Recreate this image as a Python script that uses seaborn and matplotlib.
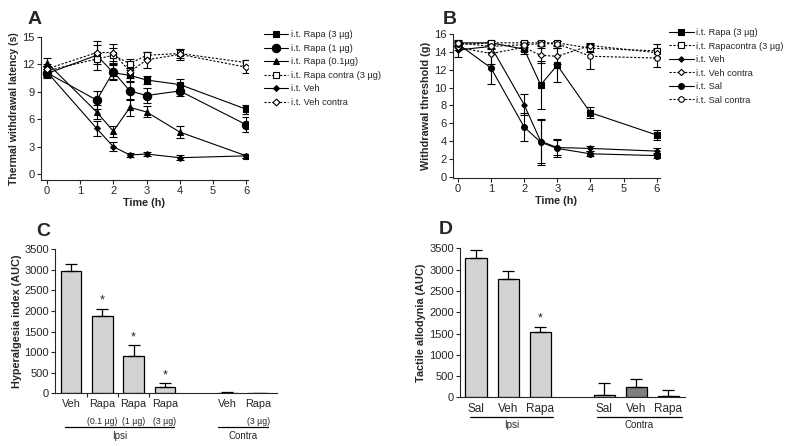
import numpy as np
import matplotlib
matplotlib.use("Agg")
import matplotlib.pyplot as plt
import pandas as pd
import seaborn as sns

# ---- data ----
time_a = [0, 1.5, 2, 2.5, 3, 4, 6]
a_rapa3 = [11.0, 13.0, 11.1, 10.8, 10.3, 9.8, 7.1]
a_rapa3_err = [0.5, 1.6, 0.8, 0.6, 0.4, 0.6, 0.5]
a_rapa1 = [11.1, 8.1, 11.2, 9.1, 8.6, 9.1, 5.4]
a_rapa1_err = [0.4, 1.0, 0.8, 1.0, 0.8, 0.6, 0.8]
a_rapa01 = [12.2, 6.8, 4.7, 7.3, 6.8, 4.6, 2.0]
a_rapa01_err = [0.5, 0.8, 0.6, 0.9, 0.6, 0.7, 0.2]
a_rapa_contra = [11.3, 12.6, 13.0, 12.1, 13.0, 13.2, 12.2]
a_rapa_contra_err = [0.5, 0.6, 0.8, 0.5, 0.4, 0.5, 0.3]
a_veh = [11.2, 5.0, 3.0, 2.1, 2.2, 1.8, 2.0]
a_veh_err = [0.6, 0.8, 0.5, 0.2, 0.2, 0.3, 0.2]
a_veh_contra = [11.5, 13.3, 13.3, 11.2, 12.5, 13.1, 11.7]
a_veh_contra_err = [0.6, 0.8, 0.9, 0.7, 0.9, 0.6, 0.6]

time_b = [0, 1, 2, 2.5, 3, 4, 6]
b_rapa3 = [15.0, 15.0, 14.3, 10.3, 12.5, 7.2, 4.7]
b_rapa3_err = [0.3, 0.2, 0.5, 2.7, 1.9, 0.6, 0.6]
b_rapa_contra = [14.8, 15.0, 15.0, 15.0, 15.0, 14.4, 14.1]
b_rapa_contra_err = [0.3, 0.2, 0.2, 0.2, 0.2, 0.4, 0.8]
b_veh = [14.2, 14.6, 8.1, 4.0, 3.3, 3.2, 2.9]
b_veh_err = [0.8, 0.2, 1.2, 2.4, 0.8, 0.3, 0.3]
b_veh_contra = [14.5, 13.8, 14.5, 13.6, 13.5, 14.7, 13.9]
b_veh_contra_err = [0.3, 1.2, 0.4, 0.8, 0.9, 0.3, 0.5]
b_sal = [14.9, 12.2, 5.6, 3.9, 3.2, 2.6, 2.4]
b_sal_err = [0.2, 1.8, 1.6, 2.6, 1.0, 0.3, 0.3]
b_sal_contra = [15.0, 14.6, 14.8, 14.9, 14.9, 13.5, 13.3]
b_sal_contra_err = [0.2, 0.3, 0.3, 0.3, 0.3, 1.4, 1.0]

c_groups = ["Veh i", "Rapa 0.1", "Rapa 1", "Rapa 3", "gap", "Veh c", "Rapa c"]
c_values = [2980, 1870, 920, 150, np.nan, 15, -10]
c_errors = [160, 190, 250, 100, np.nan, 10, 10]
c_ticklabels = ["Veh", "Rapa", "Rapa", "Rapa", "", "Veh", "Rapa"]
c_doses = ["", "(0.1 \u00b5g)", "(1 \u00b5g)", "(3 \u00b5g)", "", "", "(3 \u00b5g)"]
c_star = [False, True, True, True, False, False, False]

d_groups = ["Sal i", "Veh i", "Rapa i", "gap", "Sal c", "Veh c", "Rapa c"]
d_values = [3280, 2780, 1540, np.nan, 50, 250, 30]
d_errors = [180, 200, 120, np.nan, 290, 190, 140]
d_ticklabels = ["Sal", "Veh", "Rapa", "", "Sal", "Veh", "Rapa"]
d_star = [False, False, True, False, False, False, False]

sns.set_style("ticks")
plt.rcParams["font.family"] = ["Liberation Sans", "DejaVu Sans"]
plt.rcParams["axes.linewidth"] = 0.8

fig = plt.figure(figsize=(8, 4.46), dpi=100)
axA = fig.add_axes([0.051, 0.596, 0.259, 0.321])
axB = fig.add_axes([0.566, 0.601, 0.259, 0.323])
axC = fig.add_axes([0.069, 0.118, 0.277, 0.323])
axD = fig.add_axes([0.575, 0.109, 0.281, 0.334])

solid = "-"
dash = (0, (2, 1.5))


def draw_series(ax, t, y, err, label, marker, ms, fill, ls):
    ax.errorbar(t, y, yerr=err, fmt="none", ecolor="black", elinewidth=0.8,
                capsize=3, capthick=0.8, zorder=2)
    sns.lineplot(x=t, y=y, ax=ax, color="black", linewidth=0.8, linestyle=ls,
                 marker=marker, markersize=ms, markerfacecolor=fill,
                 markeredgecolor="black", markeredgewidth=0.8, label=label,
                 zorder=3)


# ---- panel A ----
draw_series(axA, time_a, a_rapa3, a_rapa3_err, "i.t. Rapa (3 \u00b5g)", "s", 4.5, "black", solid)
draw_series(axA, time_a, a_rapa1, a_rapa1_err, "i.t. Rapa (1 \u00b5g)", "o", 6, "black", solid)
draw_series(axA, time_a, a_rapa01, a_rapa01_err, "i.t. Rapa (0.1\u00b5g)", "^", 5, "black", solid)
draw_series(axA, time_a, a_rapa_contra, a_rapa_contra_err, "i.t. Rapa contra (3 \u00b5g)", "s", 4, "white", dash)
draw_series(axA, time_a, a_veh, a_veh_err, "i.t. Veh", "D", 3, "black", solid)
draw_series(axA, time_a, a_veh_contra, a_veh_contra_err, "i.t. Veh contra", "D", 3.5, "white", dash)
axA.set_xlim(-0.18, 6.05)
axA.set_ylim(-0.66, 15)
axA.set_xticks(range(7))
axA.set_yticks([0, 3, 6, 9, 12, 15])
axA.set_xlabel("Time (h)", fontweight="bold", fontsize=7.8, labelpad=1)
axA.set_ylabel("Thermal withdrawal latency (s)", fontweight="bold", fontsize=7.6, labelpad=2)
axA.legend(loc="upper left", bbox_to_anchor=(0.325, 0.94), bbox_transform=fig.transFigure,
           frameon=False, fontsize=6.7, handlelength=2.6, labelspacing=0.48,
           handletextpad=0.3, borderaxespad=0)

# ---- panel B ----
draw_series(axB, time_b, b_rapa3, b_rapa3_err, "i.t. Rapa (3 \u00b5g)", "s", 4.5, "black", solid)
draw_series(axB, time_b, b_rapa_contra, b_rapa_contra_err, "i.t. Rapacontra (3 \u00b5g)", "s", 4, "white", dash)
draw_series(axB, time_b, b_veh, b_veh_err, "i.t. Veh", "D", 2.8, "black", solid)
draw_series(axB, time_b, b_veh_contra, b_veh_contra_err, "i.t. Veh contra", "D", 3.2, "white", dash)
draw_series(axB, time_b, b_sal, b_sal_err, "i.t. Sal", "o", 4.2, "black", solid)
draw_series(axB, time_b, b_sal_contra, b_sal_contra_err, "i.t. Sal contra", "o", 4, "white", dash)
axB.set_xlim(-0.15, 6.1)
axB.set_ylim(-0.1, 16)
axB.set_xticks(range(7))
axB.set_yticks(range(0, 17, 2))
axB.set_xlabel("Time (h)", fontweight="bold", fontsize=7.8, labelpad=1)
axB.set_ylabel("Withdrawal threshold (g)", fontweight="bold", fontsize=7.8, labelpad=2)
axB.legend(loc="upper left", bbox_to_anchor=(0.832, 0.945), bbox_transform=fig.transFigure,
           frameon=False, fontsize=6.7, handlelength=2.6, labelspacing=0.48,
           handletextpad=0.3, borderaxespad=0)

for ax in (axA, axB):
    sns.despine(ax=ax)
    ax.tick_params(labelsize=8, length=3, width=0.8, pad=1.5)


# ---- bar panels ----
def draw_bars(ax, groups, values, errors, palette, stars, star_gap):
    df = pd.DataFrame({"group": groups, "value": values})
    sns.barplot(data=df, x="group", y="value", hue="group", order=groups,
                palette=palette, edgecolor="black", linewidth=0.9, width=0.66,
                errorbar=None, legend=False, ax=ax)
    pos = np.arange(len(groups))
    vals = np.array(values, dtype=float)
    errs = np.array(errors, dtype=float)
    ok = ~np.isnan(vals)
    ax.errorbar(pos[ok], vals[ok], yerr=[np.zeros(ok.sum()), errs[ok]], fmt="none",
                ecolor="black", elinewidth=0.9, capsize=4.5, capthick=0.9)
    for p, v, e, s in zip(pos, vals, errs, stars):
        if s:
            ax.text(p, v + e + star_gap, "*", ha="center", va="bottom", fontsize=9)


c_palette = {g: "#d3d3d3" for g in c_groups}
draw_bars(axC, c_groups, c_values, c_errors, c_palette, c_star, 40)
axC.set_xlim(-0.51, 6.58)
axC.set_ylim(0, 3500)
axC.set_ylabel("Hyperalgesia index (AUC)", fontweight="bold", fontsize=7.8, labelpad=2)
axC.set_xticks(range(len(c_groups)))
axC.set_xticklabels(c_ticklabels, fontsize=7.8)
axC.set_xticks([0.5, 1.5, 2.5, 4], minor=True)
for i, d in enumerate(c_doses):
    if d:
        axC.text(i, -0.165, d, transform=axC.get_xaxis_transform(), ha="center",
                 va="top", fontsize=6.3)

d_palette = {g: "#d3d3d3" for g in d_groups}
d_palette["Veh c"] = "#7f7f7f"
draw_bars(axD, d_groups, d_values, d_errors, d_palette, d_star, 60)
axD.set_xlim(-0.5, 6.51)
axD.set_ylim(0, 3500)
axD.set_ylabel("Tactile allodynia (AUC)", fontweight="bold", fontsize=7.8, labelpad=2)
axD.set_xticks(range(len(d_groups)))
axD.set_xticklabels(d_ticklabels, fontsize=8.5)
axD.set_xticks([3], minor=True)

for ax in (axC, axD):
    sns.despine(ax=ax)
    ax.set_xlabel("")
    ax.set_yticks(range(0, 3501, 500))
    ax.tick_params(axis="y", labelsize=8, length=3, width=0.8, pad=1.5)
    ax.tick_params(axis="x", which="major", length=0, pad=4)
    ax.tick_params(axis="x", which="minor", length=3, width=0.8)


def group_line(ax, x0, x1, y, label, ly):
    tr = ax.get_xaxis_transform()
    ax.plot([x0, x1], [y, y], color="black", linewidth=0.9, transform=tr, clip_on=False)
    ax.text((x0 + x1) / 2, ly, label, transform=tr, ha="center", va="top", fontsize=7)


group_line(axC, -0.2, 3.3, -0.23, "Ipsi", -0.26)
group_line(axC, 4.7, 6.3, -0.23, "Contra", -0.26)
group_line(axD, -0.19, 2.4, -0.13, "Ipsi", -0.15)
group_line(axD, 3.77, 6.42, -0.13, "Contra", -0.15)

# panel letters
for x, y, s in [(0.034, 0.975, "A"), (0.554, 0.975, "B"), (0.045, 0.5, "C"), (0.549, 0.505, "D")]:
    fig.text(x, y, s, fontsize=14, fontweight="bold", va="top", ha="left")

fig.savefig("out.png", dpi=100)
